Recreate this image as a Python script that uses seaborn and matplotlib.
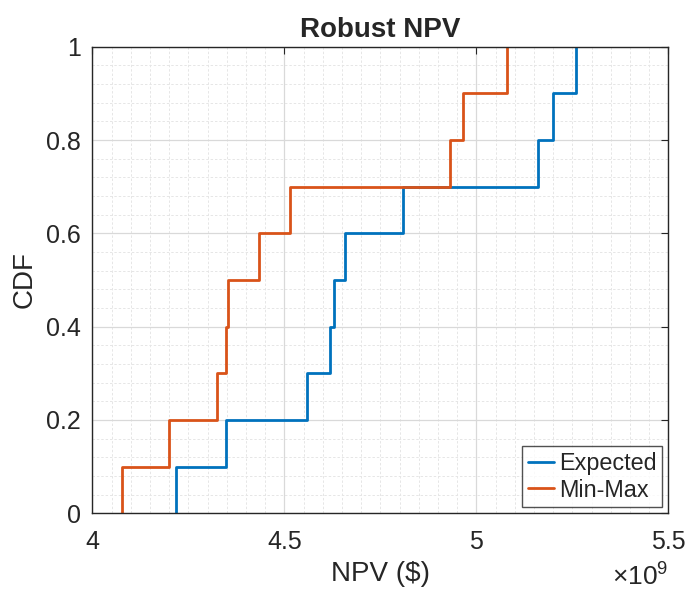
import numpy as np
import pandas as pd
import matplotlib
matplotlib.use("Agg")
import matplotlib.pyplot as plt
import seaborn as sns
from matplotlib.ticker import MultipleLocator, FuncFormatter

# Data (NPV values in $)
expected = [4.217e9, 4.348e9, 4.558e9, 4.619e9, 4.630e9,
            4.658e9, 4.810e9, 5.160e9, 5.200e9, 5.260e9]
minmax = [4.076e9, 4.200e9, 4.324e9, 4.348e9, 4.354e9,
          4.434e9, 4.515e9, 4.931e9, 4.966e9, 5.081e9]
series_names = ["Expected", "Min-Max"]
colors = ["#0072BD", "#D95319"]
x_ticks = [4.0e9, 4.5e9, 5.0e9, 5.5e9]
y_ticks = [0, 0.2, 0.4, 0.6, 0.8, 1.0]

df = pd.DataFrame({
    "NPV": expected + minmax,
    "Method": [series_names[0]] * len(expected) + [series_names[1]] * len(minmax),
})

sns.set_theme(style="white")
plt.rcParams["font.family"] = ["Liberation Sans", "DejaVu Sans"]
plt.rcParams["mathtext.fontset"] = "custom"
plt.rcParams["mathtext.rm"] = "Liberation Sans"

fig = plt.figure(figsize=(6.88, 5.93), dpi=100)
ax = fig.add_axes([0.1342, 0.1344, 0.9714 - 0.1342, 0.9212 - 0.1344])

for name, col in zip(series_names, colors):
    sns.ecdfplot(data=df[df["Method"] == name], x="NPV", ax=ax,
                 color=col, linewidth=2.0, label=name)

ax.set_xlim(4.0e9, 5.5e9)
ax.set_ylim(0, 1)
ax.set_xticks(x_ticks)
ax.set_yticks(y_ticks)
ax.xaxis.set_minor_locator(MultipleLocator(0.05e9))
ax.yaxis.set_minor_locator(MultipleLocator(0.04))
ax.xaxis.set_major_formatter(FuncFormatter(lambda v, p: f"{v/1e9:g}"))
ax.yaxis.set_major_formatter(FuncFormatter(lambda v, p: f"{v:g}"))

ax.grid(True, which="major", color="#d9d9d9", linestyle="-", linewidth=0.9)
ax.grid(True, which="minor", color="#e6e6e6", linestyle=(0, (2.5, 2)), linewidth=0.7)
ax.set_axisbelow(True)

ax.tick_params(axis="both", which="major", direction="in", length=5,
               width=0.8, color="#262626", labelsize=18, labelcolor="#262626",
               top=True, right=True)
ax.tick_params(axis="x", which="major", pad=12)
ax.tick_params(axis="y", which="major", pad=8)
ax.tick_params(axis="both", which="minor", length=0)
for s in ax.spines.values():
    s.set_visible(True)
    s.set_color("#262626")
    s.set_linewidth(1.0)

ax.set_title("Robust NPV", fontsize=20, fontweight="bold", pad=7)
ax.set_xlabel("NPV ($)", fontsize=20, color="#262626", labelpad=5)
ax.set_ylabel("CDF", fontsize=20, color="#262626", labelpad=6)

leg = ax.legend(loc="lower right", fontsize=16.8, frameon=True, fancybox=False,
                edgecolor="#262626", handlelength=1.15, handletextpad=0.2,
                borderpad=0.25, labelspacing=0.15, borderaxespad=0.25)
leg.get_frame().set_linewidth(1.0)

fig.text(0.9714, 0.004, r"$\times\mathregular{10^{9}}$", ha="right", va="bottom",
         fontsize=19, color="#262626")

fig.savefig("out.png", dpi=100, facecolor="white")
